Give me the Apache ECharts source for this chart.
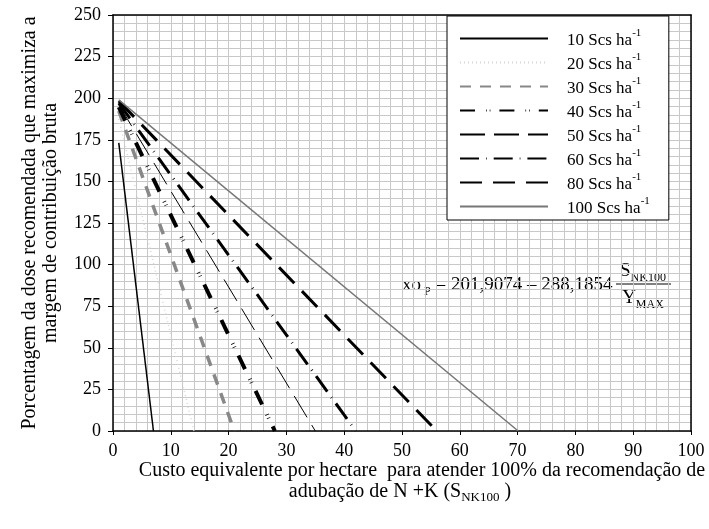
<!DOCTYPE html>
<html>
<head>
<meta charset="utf-8">
<script src="https://cdn.jsdelivr.net/npm/echarts@6/dist/echarts.min.js"></script>
<style>
html,body{margin:0;padding:0;background:#fff;}
#chart{width:709px;height:529px;}
</style>
</head>
<body>
<div id="chart"></div>
<script>
// Data
const seriesNames = ['10 Scs ha', '20 Scs ha', '30 Scs ha', '40 Scs ha', '50 Scs ha', '60 Scs ha', '80 Scs ha', '100 Scs ha'];
const startX = [1, 1, 1, 1, 1, 1, 1, 1];
const startY = [173.1, 187.5, 192.3, 194.7, 196.1, 197.1, 198.3, 199.0];
const endX = [7.0, 14.0, 21.0, 28.0, 35.0, 42.0, 56.0, 70.1];
const endY = [0, 0, 0, 0, 0, 0, 0, 0];
const xTicks = [0, 10, 20, 30, 40, 50, 60, 70, 80, 90, 100];
const yTicks = [0, 25, 50, 75, 100, 125, 150, 175, 200, 225, 250];

const FONT = '"Liberation Serif", "Times New Roman", serif';
const styles = [
  {color: '#000', width: 1.5, type: 'solid'},
  {color: '#d6d6d6', width: 1.5, type: [1, 3]},
  {color: '#888', width: 3.5, type: [11, 9]},
  {color: '#000', width: 4, type: [15, 11, 0.7, 3, 0.7, 9]},
  {color: '#000', width: 1, type: [25, 9]},
  {color: '#000', width: 3, type: [19, 7, 0.7, 7]},
  {color: '#000', width: 3, type: [22, 11]},
  {color: '#777', width: 1.5, type: 'solid'}
];

const series = seriesNames.map((n, i) => ({
  name: n,
  type: 'line',
  symbol: 'none',
  silent: true,
  animation: false,
  lineStyle: styles[i],
  itemStyle: {color: styles[i].color, opacity: 0},
  data: [[startX[i], startY[i]], [endX[i], endY[i]]],
  z: 3
}));

const chart = echarts.init(document.getElementById('chart'));
const gridCol = '#c8c8c8';
const rich2 = (big, small) => ({
  a: {fontFamily: FONT, fontSize: big, color: '#000', lineHeight: big + 3, verticalAlign: 'top'},
  b: {fontFamily: FONT, fontSize: small, color: '#000', lineHeight: small, verticalAlign: 'bottom'}
});
chart.setOption({
  animation: false,
  backgroundColor: '#fff',
  grid: {left: 113, right: 18, top: 15, bottom: 98},
  xAxis: [{
    type: 'value', min: xTicks[0], max: xTicks[xTicks.length - 1], interval: 10,
    axisLine: {show: true, lineStyle: {color: '#000', width: 1.5}},
    axisTick: {show: true, length: 4, lineStyle: {color: '#000'}},
    axisLabel: {color: '#000', fontFamily: FONT, fontSize: 18, margin: 11},
    splitLine: {show: true, lineStyle: {color: gridCol, width: 1}},
    minorTick: {show: false, splitNumber: 5},
    minorSplitLine: {show: true, lineStyle: {color: gridCol, width: 1}}
  }, {
    type: 'value', position: 'top', min: 0, max: 100,
    axisLine: {show: true, onZero: false, lineStyle: {color: '#000', width: 1.5}},
    axisTick: {show: false}, axisLabel: {show: false}, splitLine: {show: false}
  }],
  yAxis: [{
    type: 'value', min: yTicks[0], max: yTicks[yTicks.length - 1], interval: 25,
    name: 'Porcentagem da dose recomendada que maximiza a\nmargem de contribuição bruta',
    nameLocation: 'middle', nameGap: 52, nameRotate: 90,
    nameTextStyle: {color: '#000', fontFamily: FONT, fontSize: 20, lineHeight: 21},
    axisLine: {show: true, lineStyle: {color: '#000', width: 1.5}},
    axisTick: {show: true, length: 5, lineStyle: {color: '#000'}},
    axisLabel: {color: '#000', fontFamily: FONT, fontSize: 18, margin: 12},
    splitLine: {show: true, lineStyle: {color: gridCol, width: 1}},
    minorTick: {show: false, splitNumber: 5},
    minorSplitLine: {show: true, lineStyle: {color: gridCol, width: 1}}
  }, {
    type: 'value', position: 'right', min: 0, max: 250,
    axisLine: {show: true, onZero: false, lineStyle: {color: '#000', width: 1.5}},
    axisTick: {show: false}, axisLabel: {show: false}, splitLine: {show: false}
  }],
  legend: {
    orient: 'vertical', left: 447, top: 16,
    data: seriesNames,
    itemWidth: 88, itemHeight: 14, itemGap: 3,
    padding: [12, 19, 3, 12],
    backgroundColor: '#fff', borderColor: '#000', borderWidth: 1,
    selectedMode: false,
    itemStyle: {opacity: 0},
    formatter: n => '{a|' + n + '}{s|-1}',
    textStyle: {
      color: '#000', fontFamily: FONT, fontSize: 17, padding: [0, 0, 0, 14],
      rich: {
        a: {fontFamily: FONT, fontSize: 17, color: '#000', lineHeight: 21, verticalAlign: 'bottom'},
        s: {fontFamily: FONT, fontSize: 11, color: '#000', lineHeight: 11, verticalAlign: 'top'}
      }
    }
  },
  graphic: [
    {type: 'text', x: 422, y: 471, silent: true, style: {
      text: 'Custo equivalente por hectare  para atender 100% da recomendação de',
      fill: '#000', font: '20px ' + FONT, align: 'center', verticalAlign: 'middle'}},
    {type: 'text', x: 400, y: 493, silent: true, style: {
      text: '{a|adubação de N +K (S}{b|NK100}{a| )}',
      align: 'center', verticalAlign: 'middle', rich: rich2(20, 13)}},
    {type: 'text', x: 402, y: 287, silent: true, style: {
      text: '{a|xo}{b| P}{a| = 201,9074 – 288,1854}',
      align: 'left', verticalAlign: 'middle', rich: rich2(19, 12)}},
    {type: 'text', x: 643, y: 273, silent: true, style: {
      text: '{a|S}{b|NK100}',
      align: 'center', verticalAlign: 'middle', rich: rich2(19, 12)}},
    {type: 'line', silent: true, shape: {x1: 616, y1: 284, x2: 671, y2: 284}, style: {stroke: '#000', lineWidth: 1}},
    {type: 'text', x: 643, y: 300, silent: true, style: {
      text: '{a|Y}{b|MAX}',
      align: 'center', verticalAlign: 'middle', rich: rich2(19, 12)}}
  ],
  series: series
});
</script>
</body>
</html>
